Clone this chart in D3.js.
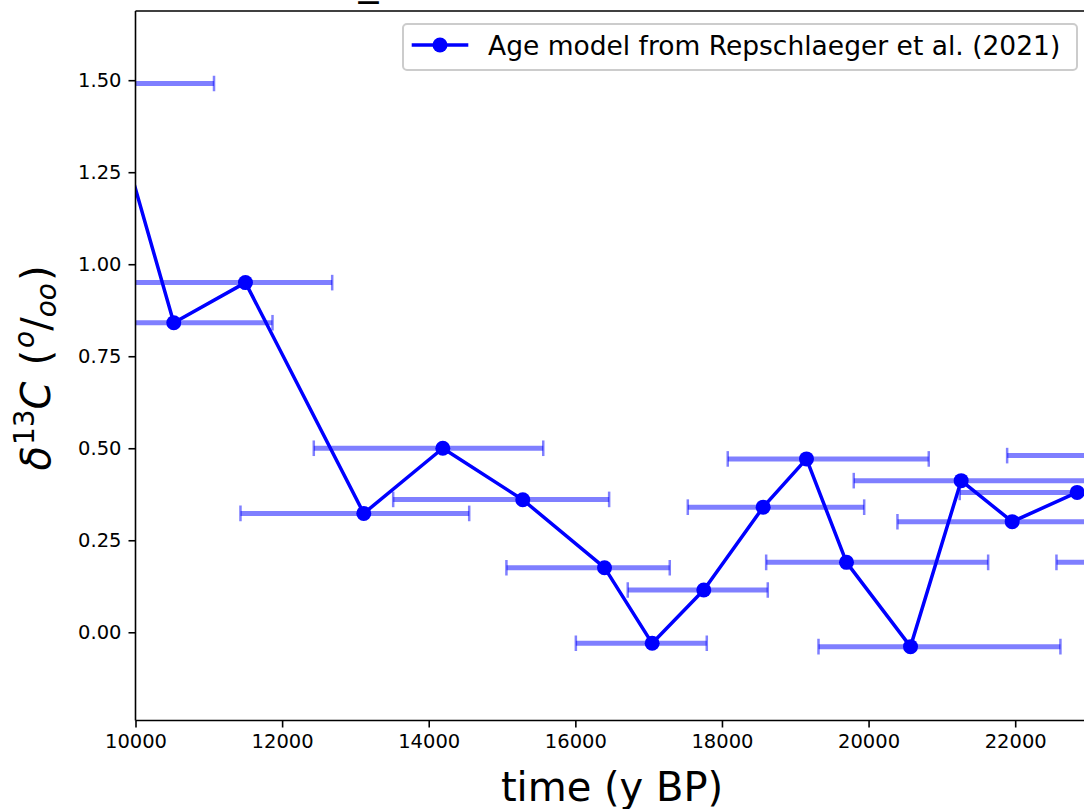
<!DOCTYPE html>
<html>
<head>
<meta charset="utf-8">
<script src="https://cdn.jsdelivr.net/npm/d3@7"></script>
<style>
  html, body { margin: 0; padding: 0; background: #fff; }
  svg { display: block; font-family: "DejaVu Sans", sans-serif; }
</style>
</head>
<body>
<svg id="chart" width="1084" height="809"></svg>
<script>
// ---- data ----
// Age model from Repschlaeger et al. (2021): time (y BP) and d13C (permil)
const lineTimes = [9590, 10522, 11500, 13114, 14192, 15283, 16398, 17048, 17752, 18562, 19153, 19699, 20572, 21263, 21959, 22845];
const lineValues = [1.49, 0.841, 0.950, 0.323, 0.500, 0.360, 0.1755, -0.030, 0.115, 0.340, 0.471, 0.190, -0.039, 0.412, 0.3005, 0.380];

// Alternative age estimates with horizontal (time) uncertainty
const errTimes = [9500, 10350, 11300, 12992, 13997, 14988, 16174, 16900, 17670, 18737, 19450, 20117, 20967, 21450, 21800, 22650, 23400, 24100];
const errValues = [1.491, 0.841, 0.950, 0.323, 0.500, 0.361, 0.1755, -0.030, 0.115, 0.340, 0.471, 0.190, -0.039, 0.412, 0.3005, 0.380, 0.480, 0.190];
const errHalfWidths = [1571, 1519, 1383, 1560, 1565, 1473, 1114, 893, 955, 1203, 1371, 1514, 1650, 1652, 1406, 1406, 1510, 1537];

const xTicks = [10000, 12000, 14000, 16000, 18000, 20000, 22000];
const yTicks = [0.00, 0.25, 0.50, 0.75, 1.00, 1.25, 1.50];
const xDomain = [10000, 23000];
const yDomain = [-0.2397, 1.688];
const legendLabel = "Age model from Repschlaeger et al. (2021)";
const xLabel = "time (y BP)";

// ---- layout ----
const L = 135.5, R = 1088.5, T = 11, B = 720.5;
const svg = d3.select("#chart");
const x = d3.scaleLinear().domain(xDomain).range([L, R]);
const y = d3.scaleLinear().domain(yDomain).range([B, T]);

const blue = "#0000ff";
const errColor = "rgba(0,0,255,0.5)";

svg.append("defs").append("clipPath").attr("id", "plotclip")
  .append("rect").attr("x", L).attr("y", T).attr("width", R - L).attr("height", B - T);

const plot = svg.append("g").attr("clip-path", "url(#plotclip)");

// error bars
const errData = errTimes.map((t, i) => ({ t, v: errValues[i], h: errHalfWidths[i] }));
const eb = plot.append("g");
eb.selectAll("line.bar").data(errData).join("line")
  .attr("x1", d => x(d.t - d.h)).attr("x2", d => x(d.t + d.h))
  .attr("y1", d => y(d.v)).attr("y2", d => y(d.v))
  .attr("stroke", errColor).attr("stroke-width", 5);
const capHalf = 7.8;
["lo", "hi"].forEach(side => {
  eb.selectAll("line.cap" + side).data(errData).join("line")
    .attr("x1", d => x(side === "lo" ? d.t - d.h : d.t + d.h))
    .attr("x2", d => x(side === "lo" ? d.t - d.h : d.t + d.h))
    .attr("y1", d => y(d.v) - capHalf).attr("y2", d => y(d.v) + capHalf)
    .attr("stroke", errColor).attr("stroke-width", 2.5);
});

// line + markers
const lineData = lineTimes.map((t, i) => ({ t, v: lineValues[i] }));
plot.append("path").datum(lineData)
  .attr("fill", "none").attr("stroke", blue).attr("stroke-width", 3.5)
  .attr("stroke-linejoin", "round")
  .attr("d", d3.line().x(d => x(d.t)).y(d => y(d.v)));
plot.selectAll("circle.pt").data(lineData).join("circle")
  .attr("cx", d => x(d.t)).attr("cy", d => y(d.v)).attr("r", 7.5)
  .attr("fill", blue);

// axes
const xAxis = d3.axisBottom(x).tickValues(xTicks).tickFormat(d3.format("d")).tickSize(7).tickPadding(7);
const gx = svg.append("g").attr("transform", `translate(0,${B})`).call(xAxis);
const yAxis = d3.axisLeft(y).tickValues(yTicks).tickFormat(d3.format(".2f")).tickSize(7).tickPadding(7);
const gy = svg.append("g").attr("transform", `translate(${L},0)`).call(yAxis);
[gx, gy].forEach(g => {
  g.select(".domain").remove();
  g.selectAll(".tick line").attr("stroke", "#000").attr("stroke-width", 1.6);
  g.selectAll(".tick text").attr("fill", "#000").style("font-size", "19.5px")
    .style("font-family", "DejaVu Sans");
});
gx.selectAll(".tick text").attr("dy", "0.71em");

// spines (left, bottom, top; right lies outside the picture)
const sp = svg.append("g").attr("stroke", "#000").attr("stroke-width", 1.6).attr("fill", "none");
sp.append("line").attr("x1", L).attr("x2", L).attr("y1", T).attr("y2", B);
sp.append("line").attr("x1", L).attr("x2", R).attr("y1", B).attr("y2", B);
sp.append("line").attr("x1", L).attr("x2", R).attr("y1", T).attr("y2", T);
sp.append("line").attr("x1", R).attr("x2", R).attr("y1", T).attr("y2", B);

// title (only its underscore shows at the top of the frame, as in the reference)
svg.append("text").attr("x", 368.5).attr("y", -6).attr("text-anchor", "middle")
  .style("font-size", "40px").text("_");

// x label
svg.append("text").attr("x", (L + R) / 2).attr("y", 801).attr("text-anchor", "middle")
  .style("font-size", "40px").text(xLabel);

// y label: δ^{13}C (^o/_{oo})
const yl = svg.append("text")
  .attr("transform", `translate(50,368) rotate(-90)`)
  .attr("text-anchor", "middle").style("font-size", "40px");
yl.append("tspan").style("font-style", "italic").text("δ");
yl.append("tspan").attr("dx", 1).attr("dy", -16).style("font-size", "28px").text("13");
yl.append("tspan").attr("dy", 16).style("font-style", "italic").text("C");
yl.append("tspan").attr("dx", 16).text("(");
yl.append("tspan").attr("dx", 2).attr("dy", -16).style("font-size", "28px").style("font-style", "italic").text("o");
yl.append("tspan").attr("dy", 16).text("/");
yl.append("tspan").attr("dy", 6).style("font-size", "28px").style("font-style", "italic").text("oo");
yl.append("tspan").attr("dx", 2).attr("dy", -6).text(")");

// legend
const lg = svg.append("g");
lg.append("rect").attr("x", 403).attr("y", 24).attr("width", 674).attr("height", 46)
  .attr("rx", 4).attr("fill", "#fff").attr("fill-opacity", 0.8)
  .attr("stroke", "#cccccc").attr("stroke-width", 2);
lg.append("line").attr("x1", 411.7).attr("x2", 468.3).attr("y1", 45).attr("y2", 45)
  .attr("stroke", blue).attr("stroke-width", 3.5);
lg.append("circle").attr("cx", 440).attr("cy", 45).attr("r", 7.5).attr("fill", blue);
lg.append("text").attr("x", 488).attr("y", 54.5).style("font-size", "26.5px").text(legendLabel);
</script>
</body>
</html>
